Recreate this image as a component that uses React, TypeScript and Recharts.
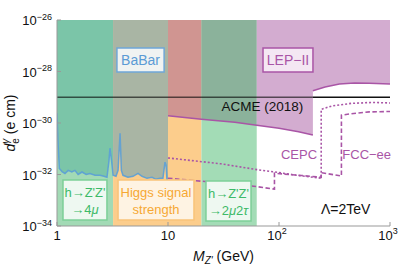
import { ComposedChart, Area, Line, XAxis, YAxis, ReferenceArea } from "recharts";

// BaBar limit on d_e^gamma (e cm) against M_Z' (GeV)
const babarMass = [1, 1.02, 1.05, 1.11, 1.18, 1.26, 1.36, 1.45, 1.55, 1.68, 1.83, 1.98, 2.2, 2.44, 2.65, 2.82, 2.94, 3.0, 3.1, 3.2, 3.4, 3.55, 3.7, 3.8, 3.93, 4.36, 4.84, 5.37, 5.83, 6.47, 7.18, 7.8, 8.5, 9.0, 9.4, 9.6, 9.8, 10];
const babarDipole = [2.4e-30, 2.1e-31, 1.7e-32, 1.3e-32, 1.1e-32, 1.45e-32, 1.25e-32, 1.45e-32, 1.0e-32, 1.25e-32, 1.0e-32, 1.1e-32, 9.3e-33, 9.3e-33, 8.5e-33, 7.8e-33, 3.5e-32, 1.05e-31, 3.5e-32, 9.3e-33, 8.5e-33, 1.45e-32, 4.0e-31, 1.45e-32, 9.3e-33, 7.8e-33, 8.5e-33, 1.1e-32, 8.5e-33, 7.1e-33, 7.8e-33, 6.5e-33, 7.1e-33, 7.1e-33, 3.0e-32, 2.3e-32, 5.9e-33, 5.9e-33];

// LEP-II, below and above the 2 x M_Z' jump
const lepLowMass = [10, 20, 40, 63, 100, 150, 202];
const lepLowDipole = [1.9e-30, 1.4e-30, 1.07e-30, 8.1e-31, 6.3e-31, 4.6e-31, 3.4e-31];
const lepHighMass = [202, 260, 350, 480, 650, 1000];
const lepHighDipole = [1.8e-29, 2.5e-29, 3.3e-29, 3.6e-29, 3.5e-29, 3.3e-29];

// future e+e- projections
const cepcMass = [10, 30, 63, 91, 150, 240, 240, 300, 450, 700, 1000];
const cepcDipole = [4.4e-32, 2.6e-32, 1.55e-32, 1.26e-32, 9.1e-33, 7.2e-33, 3.4e-30, 4.6e-30, 5.8e-30, 6.3e-30, 6.0e-30];
const fccMass = [10, 30, 63, 91, 91, 160, 240, 240, 365, 365, 450, 650, 1000];
const fccDipole = [7.2e-33, 4.7e-33, 3.4e-33, 2.7e-33, 1.12e-32, 9.1e-33, 7.8e-33, 1.18e-32, 8.7e-33, 2.0e-30, 2.3e-30, 2.7e-30, 2.8e-30];

const acmeDipole = 1.0e-29;

// mass windows of the Higgs constraints
const higgs4muRange = [1, 3.2];
const higgsSignalRange = [3.2, 20];
const higgs2mu2tauRange = [20, 63];

const massTicks = [1, 10, 100, 1000];
const dipoleTicks = [1e-34, 1e-32, 1e-30, 1e-28, 1e-26];

const lg = Math.log10;
const TOP = -26;
const BOT = -34;
const FRAME = "#999";
const PURPLE = "#a955a6";
const FONT = "'Liberation Sans', Arial, sans-serif";

type Pt = { x: number; y: number };
const toPts = (ms: number[], ds: number[]): Pt[] => ms.map((m, i) => ({ x: lg(m), y: lg(ds[i]) }));
const within = (pts: Pt[], lo: number, hi: number) => pts.filter((p) => p.x >= lg(lo) - 1e-9 && p.x <= lg(hi) + 1e-9);
const above = (pts: Pt[]) => pts.map((p) => ({ x: p.x, r: [p.y, TOP] }));
const band = ([lo, hi]: number[]) => [
  { x: lg(lo), r: [BOT, TOP] },
  { x: lg(hi), r: [BOT, TOP] },
];

const babar = toPts(babarMass, babarDipole);
const lepLow = toPts(lepLowMass, lepLowDipole);
const lepHigh = toPts(lepHighMass, lepHighDipole);
const lep = [...lepLow, ...lepHigh];
const cepc = toPts(cepcMass, cepcDipole);
const fcc = toPts(fccMass, fccDipole);
const acmeSplit = lepHighMass[0];
const acmeIn = toPts([1, acmeSplit], [acmeDipole, acmeDipole]);
const acmeOut = toPts([acmeSplit, 1000], [acmeDipole, acmeDipole]);

const MassTick = ({ x, y, payload }: any) => {
  const e = Math.round(payload.value);
  return (
    <g>
      <line x1={x} x2={x} y1={y} y2={y - 4} stroke={FRAME} />
      <text x={x} y={y + 14} dx={e > 1 ? -2 : 0} textAnchor="middle" fontSize={13} fill="#111">
        {e === 0 ? "1" : e === 1 ? "10" : (
          <>
            10<tspan dy={-6} fontSize={9}>{e}</tspan>
          </>
        )}
      </text>
    </g>
  );
};

const DipoleTick = ({ x, y, payload }: any) => {
  const e = Math.round(payload.value);
  return (
    <g>
      <line x1={x} x2={x + 4} y1={y} y2={y} stroke={FRAME} />
      <text x={x - 5} y={y + 5} textAnchor="end" fontSize={13} fill="#111">
        10<tspan dy={-5.5} fontSize={9}>{"\u2212" + Math.abs(e)}</tspan>
      </text>
    </g>
  );
};

const TopTick = ({ x, y }: any) => <line x1={x} x2={x} y1={y} y2={y + 4} stroke={FRAME} />;
const RightTick = ({ x, y }: any) => <line x1={x} x2={x - 4} y1={y} y2={y} stroke={FRAME} />;

const YTitle = ({ viewBox }: any) => {
  const cx = (viewBox?.x ?? 0) + 15;
  const cy = (viewBox?.y ?? 20) + (viewBox?.height ?? 206) / 2;
  return (
    <text transform={`rotate(-90 ${cx} ${cy})`} x={cx} y={cy} textAnchor="middle" fontSize={14} fill="#111">
      <tspan fontStyle="italic">d</tspan>
      <tspan dy={-6} fontSize={10} fontStyle="italic">γ</tspan>
      <tspan dx={-5} dy={10} fontSize={10}>e</tspan>
      <tspan dy={-4}>{"  (e cm)"}</tspan>
    </text>
  );
};

const XTitle = ({ viewBox }: any) => {
  const cx = (viewBox?.x ?? 57) + (viewBox?.width ?? 333) / 2;
  const y = (viewBox?.y ?? 226) + 35;
  return (
    <text x={cx} y={y} textAnchor="middle" fontSize={14} fill="#111">
      <tspan fontStyle="italic">M</tspan>
      <tspan dy={3} fontSize={10} fontStyle="italic">Z'</tspan>
      <tspan dy={-3}>{"   (GeV)"}</tspan>
    </text>
  );
};

const BoxText = ({ viewBox, lines, color, size = 13 }: any) => {
  if (!viewBox) return null;
  const cx = viewBox.x + viewBox.width / 2;
  const cy = viewBox.y + viewBox.height / 2;
  const offs = lines.length === 1 ? [size * 0.36] : [-3, 14];
  return (
    <g>
      {lines.map((ln: any, i: number) => (
        <text key={i} x={cx} y={cy + offs[i]} textAnchor="middle" fontSize={size} fill={color}>
          {ln}
        </text>
      ))}
    </g>
  );
};

const fillArea = (key: string, data: any[], color: string) => (
  <Area
    key={key}
    data={data}
    dataKey="r"
    type="linear"
    stroke="none"
    fill={color}
    fillOpacity={1}
    dot={false}
    activeDot={false}
    isAnimationActive={false}
  />
);

export default function App() {
  return (
    <div style={{ position: "absolute", left: 0, top: 0, fontFamily: FONT }}>
      <ComposedChart width={415} height={267} margin={{ top: 20, right: 25, bottom: 0, left: 0 }} style={{ fontFamily: FONT }}>
        {fillArea("g1", band(higgs4muRange), "#a2dab5")}
        {fillArea("or", band(higgsSignalRange), "#fccd8c")}
        {fillArea("g2", band(higgs2mu2tauRange), "#a3dcb6")}
        {fillArea("bb1", above(within(babar, 1, 3.2)), "#7bc5a8")}
        {fillArea("bb2", above(within(babar, 3.2, 10)), "#a9b5a4")}
        {fillArea("lep1", above(within(lep, 10, 20)), "#d09591")}
        {fillArea("lep2", above(within(lep, 20, 63)), "#8bb29b")}
        {fillArea("lep3", above(within(lep, 63, 1000)), "#d3acd0")}

        <Line data={acmeIn} dataKey="y" type="linear" stroke="#000" strokeOpacity={0.6} strokeWidth={1.5} dot={false} activeDot={false} isAnimationActive={false} />
        <Line data={acmeOut} dataKey="y" type="linear" stroke="#111" strokeWidth={1.5} dot={false} activeDot={false} isAnimationActive={false} />
        <Line data={babar} dataKey="y" type="linear" stroke="#5a9fd7" strokeOpacity={0.9} strokeWidth={1.5} dot={false} activeDot={false} isAnimationActive={false} />
        <Line data={lepLow} dataKey="y" type="linear" stroke={PURPLE} strokeWidth={1.5} dot={false} activeDot={false} isAnimationActive={false} />
        <Line data={lepHigh} dataKey="y" type="linear" stroke={PURPLE} strokeWidth={1.5} dot={false} activeDot={false} isAnimationActive={false} />
        <Line data={cepc} dataKey="y" type="linear" stroke={PURPLE} strokeWidth={1.6} strokeDasharray="2 2" dot={false} activeDot={false} isAnimationActive={false} />
        <Line data={fcc} dataKey="y" type="linear" stroke={PURPLE} strokeWidth={1.6} strokeDasharray="4.5 2.5" dot={false} activeDot={false} isAnimationActive={false} />

        <XAxis
          dataKey="x"
          type="number"
          domain={[0, 3]}
          ticks={massTicks.map(lg)}
          interval={0}
          allowDataOverflow
          height={41}
          tickSize={0}
          tickMargin={0}
          axisLine={{ stroke: FRAME }}
          tick={(p: any) => <MassTick {...p} />}
          label={<XTitle />}
        />
        <XAxis
          xAxisId="t"
          orientation="top"
          dataKey="x"
          type="number"
          domain={[0, 3]}
          ticks={massTicks.map(lg)}
          interval={0}
          allowDataOverflow
          height={0}
          tickSize={0}
          tickMargin={0}
          axisLine={{ stroke: FRAME }}
          tick={(p: any) => <TopTick {...p} />}
        />
        <YAxis
          type="number"
          domain={[BOT, TOP]}
          ticks={dipoleTicks.map(lg)}
          interval={0}
          allowDataOverflow
          width={57}
          tickSize={0}
          tickMargin={0}
          axisLine={{ stroke: FRAME }}
          tick={(p: any) => <DipoleTick {...p} />}
          label={<YTitle />}
        />
        <YAxis
          yAxisId="r"
          orientation="right"
          type="number"
          domain={[BOT, TOP]}
          ticks={dipoleTicks.map(lg)}
          interval={0}
          allowDataOverflow
          width={0}
          tickSize={0}
          tickMargin={0}
          axisLine={{ stroke: FRAME }}
          tick={(p: any) => <RightTick {...p} />}
        />

        <ReferenceArea x1={0.54} x2={0.965} y1={-28.02} y2={-27.09} fill="#f0f3f2" fillOpacity={1} stroke="#6fa7d7" strokeWidth={1.5} zIndex={1500}
          label={<BoxText lines={["BaBar"]} color="#5b9bd5" size={14} />} />
        <ReferenceArea x1={1.856} x2={2.306} y1={-28.02} y2={-27.09} fill="#f4e7f3" fillOpacity={1} stroke={PURPLE} strokeWidth={1.5} zIndex={1500}
          label={<BoxText lines={["LEP\u2212II"]} color={PURPLE} size={14} />} />
        <ReferenceArea x1={0.054} x2={0.45} y1={-33.77} y2={-32.21} fill="#eef8f1" fillOpacity={1} stroke="#7dcf98" strokeWidth={1.5} zIndex={1500}
          label={<BoxText lines={["h\u2192Z'Z'", <>{"\u21924"}<tspan fontStyle="italic">μ</tspan></>]} color="#3dba68" />} />
        <ReferenceArea x1={0.55} x2={1.234} y1={-33.77} y2={-32.21} fill="#fef3e3" fillOpacity={1} stroke="#f9c47a" strokeWidth={1.5} zIndex={1500}
          label={<BoxText lines={["Higgs signal", "strength"]} color="#f6a833" />} />
        <ReferenceArea x1={1.342} x2={1.748} y1={-33.81} y2={-32.25} fill="#eef8f1" fillOpacity={1} stroke="#7dcf98" strokeWidth={1.5} zIndex={1500}
          label={<BoxText lines={["h\u2192Z'Z'", <>{"\u21922"}<tspan fontStyle="italic">μ</tspan>2<tspan fontStyle="italic">τ</tspan></>]} color="#3dba68" />} />

        <ReferenceArea x1={1.8} x2={1.9} y1={-29.4} y2={-29.3} fillOpacity={0} stroke="none" zIndex={1500}
          label={<BoxText lines={["ACME (2018)"]} color="#111" size={13.5} />} />
        <ReferenceArea x1={2.13} x2={2.23} y1={-31.25} y2={-31.15} fillOpacity={0} stroke="none" zIndex={1500}
          label={<BoxText lines={["CEPC"]} color={PURPLE} size={13} />} />
        <ReferenceArea x1={2.74} x2={2.84} y1={-31.25} y2={-31.15} fillOpacity={0} stroke="none" zIndex={1500}
          label={<BoxText lines={["FCC\u2212ee"]} color={PURPLE} size={13} />} />
        <ReferenceArea x1={2.55} x2={2.65} y1={-33.39} y2={-33.29} fillOpacity={0} stroke="none" zIndex={1500}
          label={<BoxText lines={["Λ=2TeV"]} color="#111" size={14} />} />
      </ComposedChart>
    </div>
  );
}
